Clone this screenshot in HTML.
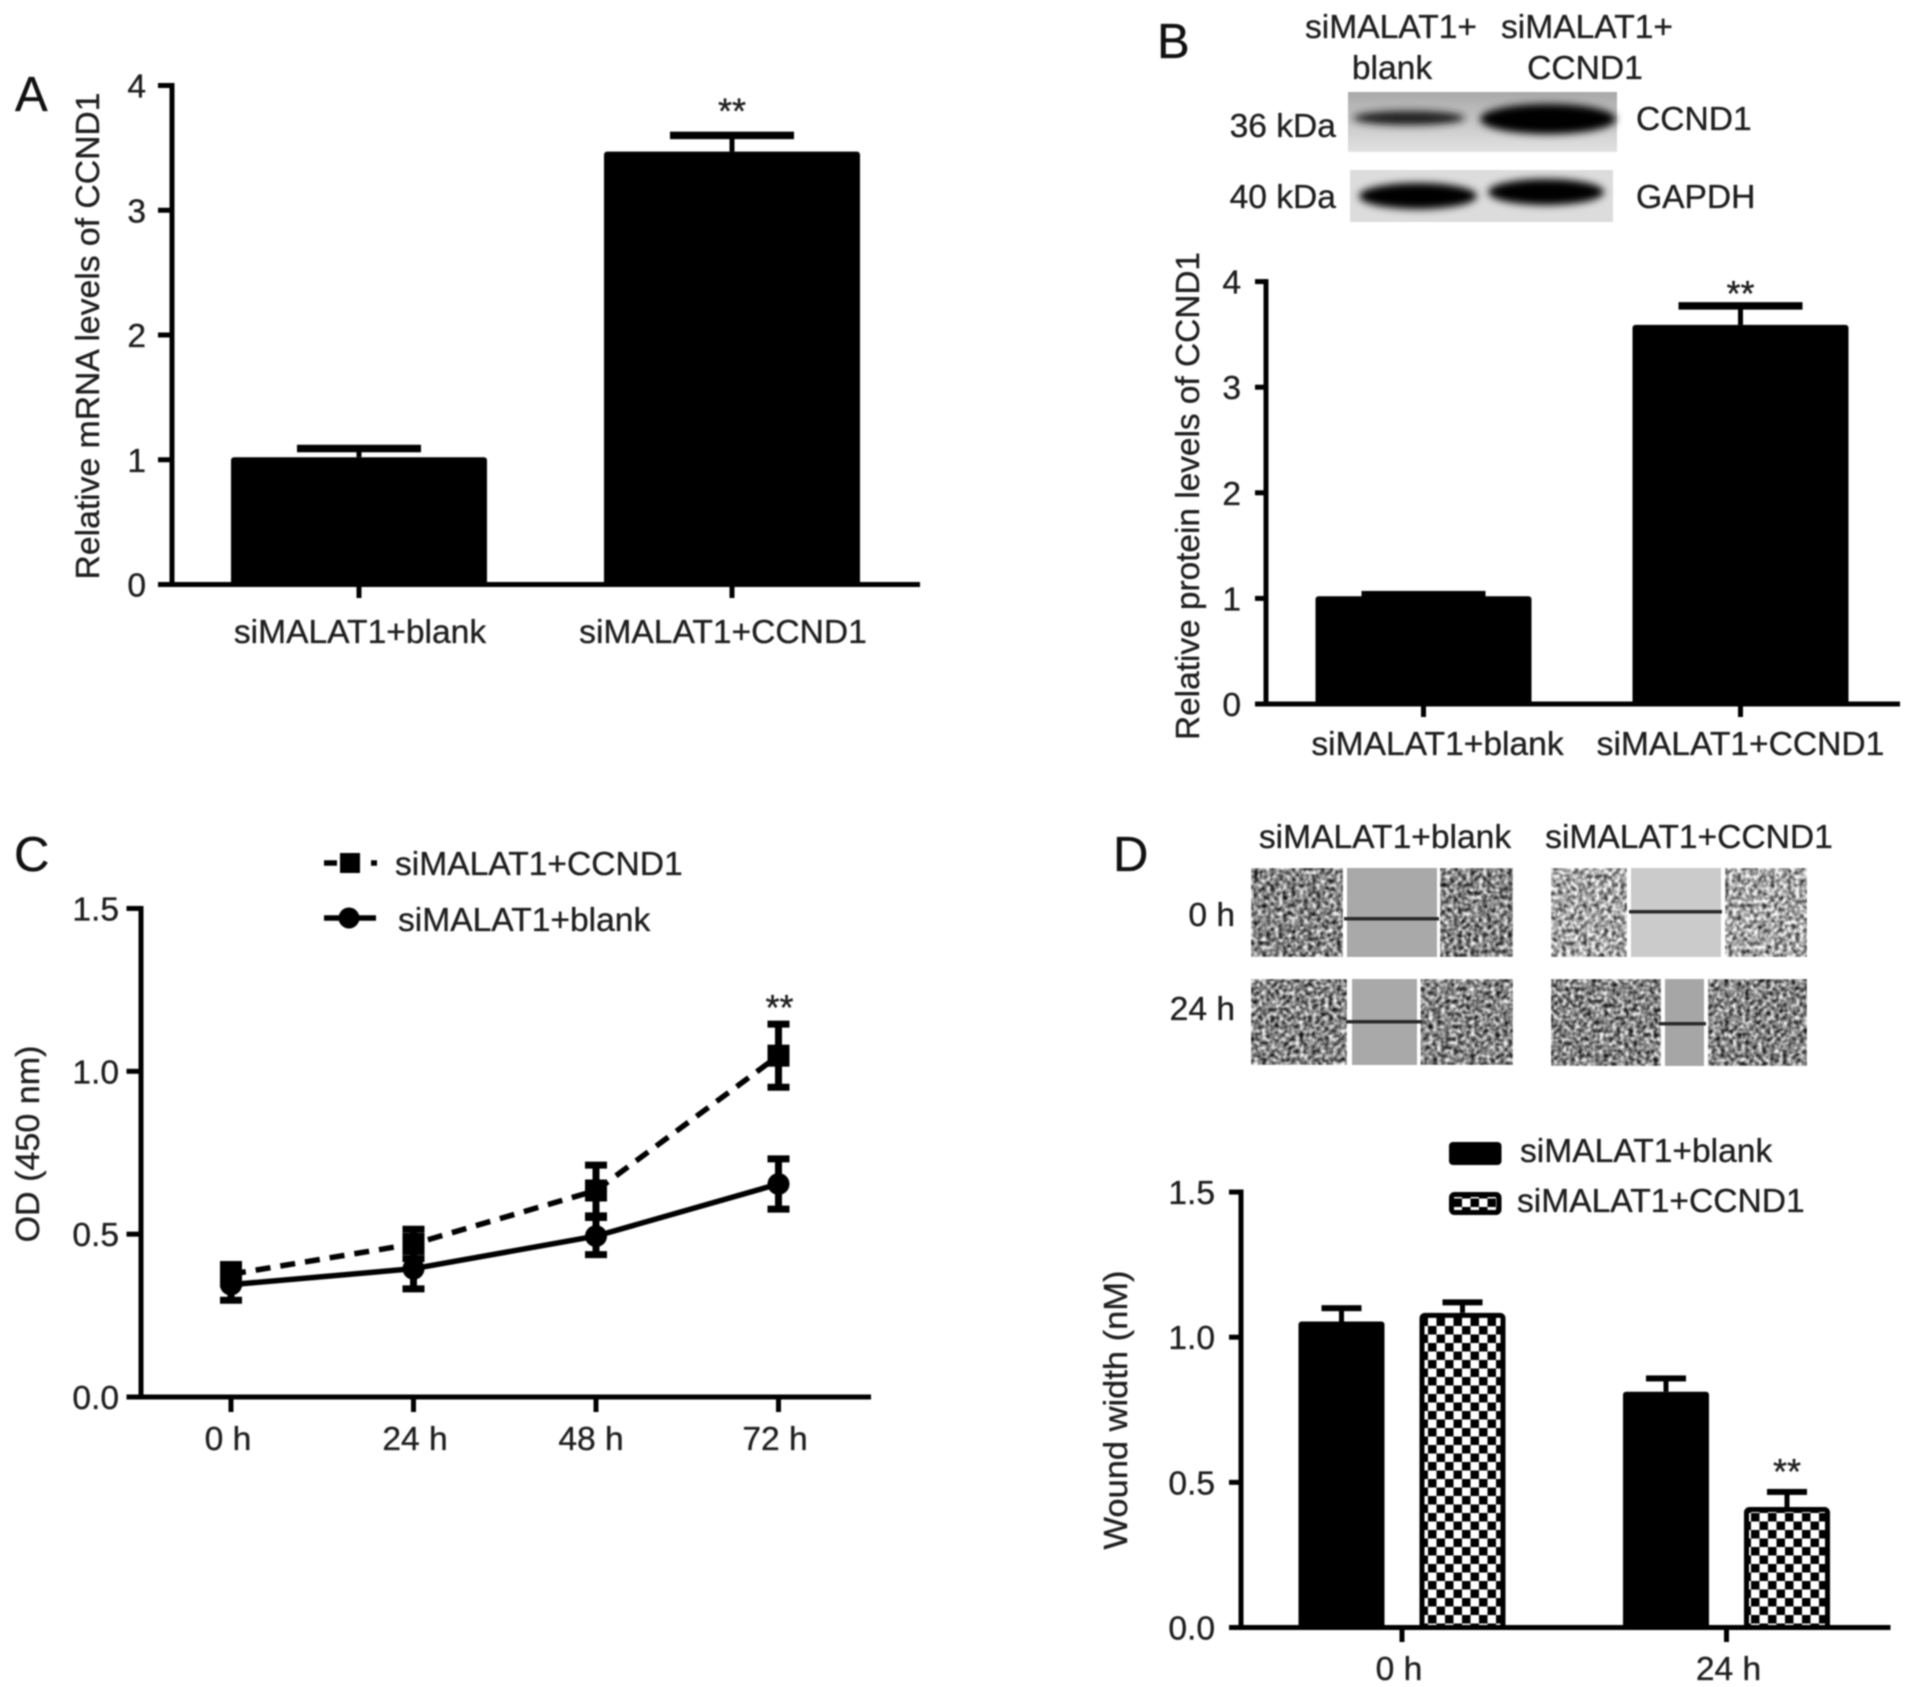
<!DOCTYPE html>
<html lang="en">
<head>
<meta charset="utf-8">
<title>CCND1 panels A-D</title>
<style>
html,body{margin:0;padding:0;background:#fff;width:1913px;height:1687px;overflow:hidden}
svg{display:block;filter:blur(.7px)}
text{font-family:"Liberation Sans",sans-serif;font-size:33.6px;fill:#1f1f1f;stroke:#1f1f1f;stroke-width:.35px}
.letter{font-size:49px;fill:#111;stroke:#111}
</style>
</head>
<body>
<svg id="figure" xmlns="http://www.w3.org/2000/svg" width="1913" height="1687" viewBox="0 0 1913 1687">
<defs>
<pattern id="checker" patternUnits="userSpaceOnUse" width="17" height="17">
<rect width="17" height="17" fill="#fff"/>
<rect x="0" y="0" width="8.5" height="8.5" fill="#000"/>
<rect x="8.5" y="8.5" width="8.5" height="8.5" fill="#000"/>
</pattern>
<filter id="tissue" x="0" y="0" width="100%" height="100%" color-interpolation-filters="sRGB">
<feTurbulence type="fractalNoise" baseFrequency="0.24" numOctaves="2" seed="4"/>
<feColorMatrix type="matrix" values="1.7 0 0 0 -0.33  1.7 0 0 0 -0.33  1.7 0 0 0 -0.33  0 0 0 0 1"/>
<feGaussianBlur stdDeviation="0.6"/>
</filter>
<filter id="tissue-light" x="0" y="0" width="100%" height="100%" color-interpolation-filters="sRGB">
<feTurbulence type="fractalNoise" baseFrequency="0.24" numOctaves="2" seed="9"/>
<feColorMatrix type="matrix" values="1.7 0 0 0 -0.2  1.7 0 0 0 -0.2  1.7 0 0 0 -0.2  0 0 0 0 1"/>
<feGaussianBlur stdDeviation="0.6"/>
</filter>
<filter id="band-blur" x="-30%" y="-80%" width="160%" height="260%"><feGaussianBlur stdDeviation="4"/></filter>
<linearGradient id="blot-bg" x1="0" y1="0" x2="0" y2="1">
<stop offset="0" stop-color="#a8a8a8"/><stop offset=".45" stop-color="#c4c4c4"/><stop offset="1" stop-color="#e2e2e2"/>
</linearGradient>
</defs>

<text class="letter" x="15" y="111">A</text>
<text class="letter" x="1157" y="58">B</text>
<text class="letter" x="14" y="871">C</text>
<text class="letter" x="1113" y="871">D</text>

<g>
<text x="1391" y="38" text-anchor="middle">siMALAT1+</text>
<text x="1392" y="79" text-anchor="middle">blank</text>
<text x="1587" y="38" text-anchor="middle">siMALAT1+</text>
<text x="1585" y="79" text-anchor="middle">CCND1</text>
<text x="1336" y="137" text-anchor="end">36 kDa</text>
<text x="1336" y="208" text-anchor="end">40 kDa</text>
<text x="1636" y="130">CCND1</text>
<text x="1636" y="208">GAPDH</text>
<g>
<rect x="1348" y="92" width="269" height="60" fill="url(#blot-bg)"/>
<ellipse cx="1409" cy="118" rx="56" ry="7" fill="#1c1c1c" filter="url(#band-blur)"/>
<ellipse cx="1548" cy="119" rx="68" ry="15" fill="#000" filter="url(#band-blur)"/>
</g>
<g>
<rect x="1350" y="170" width="263" height="52" fill="#dcdcdc"/>
<ellipse cx="1418" cy="196" rx="59" ry="13" fill="#000" filter="url(#band-blur)"/>
<ellipse cx="1546" cy="192" rx="58" ry="13" fill="#000" filter="url(#band-blur)"/>
</g>
</g>

<g>
<text x="1385" y="848" text-anchor="middle">siMALAT1+blank</text>
<text x="1689" y="848" text-anchor="middle">siMALAT1+CCND1</text>
<text x="1235" y="926" text-anchor="end">0 h</text>
<text x="1235" y="1020" text-anchor="end">24 h</text>

<g>
<rect x="1251" y="868" width="262" height="89" fill="#fff"/>
<rect x="1251" y="868" width="92" height="89" filter="url(#tissue)"/>
<rect x="1347" y="868" width="90" height="89" fill="#a9a9a9"/>
<rect x="1440" y="868" width="73" height="89" filter="url(#tissue)"/>
<rect x="1344" y="917" width="95" height="3.5" fill="#2a2a2a"/>
</g>
<g>
<rect x="1551" y="868" width="256" height="89" fill="#fff"/>
<rect x="1551" y="868" width="76" height="89" filter="url(#tissue-light)"/>
<rect x="1631" y="868" width="90" height="89" fill="#cbcbcb"/>
<rect x="1725" y="868" width="82" height="89" filter="url(#tissue-light)"/>
<rect x="1629" y="910" width="93" height="3.5" fill="#2a2a2a"/>
</g>
<g>
<rect x="1251" y="979" width="262" height="86" fill="#fff"/>
<rect x="1251" y="979" width="96" height="86" filter="url(#tissue)"/>
<rect x="1352" y="979" width="65" height="86" fill="#a9a9a9"/>
<rect x="1420.500" y="979" width="92.500" height="86" filter="url(#tissue)"/>
<rect x="1346" y="1020" width="76" height="3.500" fill="#2a2a2a"/>
</g>
<g>
<rect x="1551" y="979" width="256" height="87" fill="#fff"/>
<rect x="1551" y="979" width="110" height="87" filter="url(#tissue)"/>
<rect x="1665" y="979" width="39" height="87" fill="#a6a6a6"/>
<rect x="1708" y="979" width="99" height="87" filter="url(#tissue)"/>
<rect x="1659" y="1022" width="47" height="3.500" fill="#2a2a2a"/>
</g>
</g>
</svg>

<script>
// Panel A data
const aCategories = ['siMALAT1+blank', 'siMALAT1+CCND1'];
const aMeans = [1.02, 3.47];
const aErrorTops = [1.09, 3.60];
const aTicks = [0, 1, 2, 3, 4];
const aTickLabels = ['0', '1', '2', '3', '4'];
const aStars = ['', '**'];

// Panel B data
const bCategories = ['siMALAT1+blank', 'siMALAT1+CCND1'];
const bMeans = [1.02, 3.59];
const bErrorTops = [1.035, 3.77];
const bTicks = [0, 1, 2, 3, 4];
const bTickLabels = ['0', '1', '2', '3', '4'];
const bStars = ['', '**'];

// Panel C data
const cCategories = ['0 h', '24 h', '48 h', '72 h'];
const cCcnd1 = [0.377, 0.47, 0.634, 1.048];
const cCcnd1Err = [0.03, 0.045, 0.078, 0.097];
const cBlank = [0.345, 0.394, 0.494, 0.654];
const cBlankErr = [0.048, 0.062, 0.057, 0.077];
const cTicks = [0, 0.5, 1, 1.5];
const cTickLabels = ['0.0', '0.5', '1.0', '1.5'];
const cStars = ['', '', '', '**'];

// Panel D data
const dCategories = ['0 h', '24 h'];
const dBlank = [1.054, 0.812];
const dBlankTops = [1.10, 0.858];
const dCcnd1 = [1.084, 0.415];
const dCcnd1Tops = [1.12, 0.467];
const dTicks = [0, 0.5, 1, 1.5];
const dTickLabels = ['0.0', '0.5', '1.0', '1.5'];
const dStars = ['', '**'];

const NS = 'http://www.w3.org/2000/svg';
const fig = document.getElementById('figure');
function el(tag, attrs, parent) {
  const n = document.createElementNS(NS, tag);
  for (const k in attrs) n.setAttribute(k, attrs[k]);
  (parent || fig).appendChild(n);
  return n;
}
function label(str, attrs, parent) {
  const t = el('text', attrs, parent);
  t.textContent = str;
  return t;
}
function linearY(y0, pxPerUnit) { return v => y0 - v * pxPerUnit; }
function pointX(x0, step) { return i => x0 + i * step; }

function drawAxes(group, o) {
  const yAxis = el('line', {x1: o.axisX, x2: o.axisX, y1: o.y(o.ticks[o.ticks.length - 1]) - 2.5, y2: o.y(0) + 2.5, stroke: '#000', 'stroke-width': 5}, group);
  
  
  const xAxis = el('line', {x1: o.tickLeft, x2: o.axisEnd, y1: o.y(0), y2: o.y(0), stroke: '#000', 'stroke-width': 5}, group);
  
  
  o.ticks.forEach((v, i) => {
    const t = el('line', {x1: o.tickLeft, x2: o.axisX, y1: o.y(v), y2: o.y(v), stroke: '#000', 'stroke-width': 5}, group);
    
    
    const l = label(o.tickLabels[i], {x: o.labelRight, y: o.y(v) + 12, 'text-anchor': 'end'}, group);
    
    
  });
  o.categories.forEach((c, i) => {
    const x = o.x(i);
    const t = el('line', {x1: x, x2: x, y1: o.y(0), y2: o.tickBottom, stroke: '#000', 'stroke-width': 5}, group);
    
    
    const l = label(c, {x: x + o.labelShift(i), y: o.catBaseline, 'text-anchor': 'middle'}, group);
    
    
  });
  const title = label(o.title, {x: o.titleX, y: o.titleY, 'text-anchor': 'middle', transform: 'rotate(-90 ' + o.titleX + ' ' + o.titleY + ')', textLength: o.titleLength, lengthAdjust: 'spacingAndGlyphs'}, group);
  
  
}

function drawStars(group, str, x, centerY) {
  if (!str) return;
  const s = label(str, {x: x, y: centerY + 21, 'text-anchor': 'middle', style: 'font-size:36px'}, group);
  
  
}

function drawErrorCap(group, x, y, valueY, halfWidth, capH) {
  const stem = el('rect', {x: x - 2.5, y: y, width: 5, height: Math.max(valueY - y, 0), fill: '#000'}, group);
  
  
  const cap = el('rect', {x: x - halfWidth, y: y - capH / 2, width: halfWidth * 2, height: capH, fill: '#000'}, group);
  
  
}

function drawSimpleBars(name, o, means, tops, stars, barW, starYs) {
  const g = el('g', {});
  
  
  means.forEach((v, i) => {
    const x = o.x(i);
    const b = el('rect', {x: x - barW / 2, y: o.y(v), width: barW, height: o.y(0) - o.y(v), rx: 3, fill: '#000'}, g);
    
    
    drawErrorCap(g, x, o.y(tops[i]), o.y(v), 62, 7.5);
    drawStars(g, stars[i], x, starYs(tops[i]));
  });
  drawAxes(g, o);
}

// Panel A
const aY = linearY(584.5, 124.75);
drawSimpleBars('panel-a-chart', {
  axisX: 172, tickLeft: 158, axisEnd: 920, tickBottom: 598, labelRight: 146, y: aY, x: pointX(359, 373),
  ticks: aTicks, tickLabels: aTickLabels, categories: aCategories, labelShift: i => i === 0 ? 1 : -9,
  catBaseline: 643, title: 'Relative mRNA levels of CCND1', titleX: 99, titleY: 336, titleLength: 487
}, aMeans, aErrorTops, aStars, 256, v => aY(v) - 33);

// Panel B
const bY = linearY(704, 105.6);
drawSimpleBars('panel-b-chart', {
  axisX: 1266, tickLeft: 1255, axisEnd: 1900, tickBottom: 717, labelRight: 1241, y: bY, x: pointX(1423.5, 317),
  ticks: bTicks, tickLabels: bTickLabels, categories: bCategories, labelShift: i => i === 0 ? 14 : 0,
  catBaseline: 755, title: 'Relative protein levels of CCND1', titleX: 1199, titleY: 496, titleLength: 488
}, bMeans, bErrorTops, bStars, 216, v => bY(v) - 21);

// Panel C
const cY = linearY(1397, 325.7);
const cX = pointX(231, 182.5);
const cG = el('g', {});


drawAxes(cG, {
  axisX: 141, tickLeft: 126.5, axisEnd: 871, tickBottom: 1412, labelRight: 119, y: cY, x: cX,
  ticks: cTicks, tickLabels: cTickLabels, categories: cCategories, labelShift: i => [-3, 1.5, -5, -3.5][i],
  catBaseline: 1450, title: 'OD (450 nm)', titleX: 39, titleY: 1144, titleLength: 197
});
function drawSeries(values, errs, dashed, marker, name) {
  const g = el('g', {}, cG);
  
  
  const pts = values.map((v, i) => cX(i) + ',' + cY(v)).join(' ');
  const attrs = {points: pts, fill: 'none', stroke: '#000', 'stroke-width': 5.5};
  if (dashed) attrs['stroke-dasharray'] = '15 10';
  const line = el('polyline', attrs, g);
  
  
  values.forEach((v, i) => {
    const x = cX(i);
    const eb = el('path', {d: 'M' + (x - 11) + ' ' + cY(v + errs[i]) + 'H' + (x + 11) + 'M' + x + ' ' + cY(v + errs[i]) + 'V' + cY(v - errs[i]) + 'M' + (x - 11) + ' ' + cY(v - errs[i]) + 'H' + (x + 11), fill: 'none', stroke: '#000', 'stroke-width': 7}, g);
    
    
    let m;
    if (marker === 'square') {
      m = el('rect', {x: x - 11, y: cY(v) - 11, width: 22, height: 22, fill: '#000'}, g);
    } else {
      m = el('circle', {cx: x, cy: cY(v), r: 11, fill: '#000'}, g);
    }
    
    
  });
}
drawSeries(cCcnd1, cCcnd1Err, true, 'square', 'series-ccnd1');
drawSeries(cBlank, cBlankErr, false, 'circle', 'series-blank');
cStars.forEach((s, i) => {
  drawStars(cG, s, cX(i) + 1, 999);
});

const cLegend = el('g', {}, cG);


const cl1 = el('path', {d: 'M324 863H337M371 863H377', stroke: '#000', 'stroke-width': 5.5, fill: 'none'}, cLegend);


const cm1 = el('rect', {x: 340, y: 853, width: 20, height: 20, fill: '#000'}, cLegend);


const ct1 = label('siMALAT1+CCND1', {x: 395, y: 875}, cLegend);


const cl2 = el('line', {x1: 324, x2: 376, y1: 918, y2: 918, stroke: '#000', 'stroke-width': 5.5}, cLegend);


const cm2 = el('circle', {cx: 349, cy: 918, r: 10.5, fill: '#000'}, cLegend);


const ct2 = label('siMALAT1+blank', {x: 398, y: 931}, cLegend);



// Panel D
const dY = linearY(1627.5, 290.3);
const dX = pointX(1402, 324.5);
const dG = el('g', {});


const barW = 86;
function drawGroupBars(values, tops, offset, checked, name) {
  values.forEach((v, i) => {
    const x = dX(i) + offset;
    const attrs = checked
      ? {x: x - barW / 2 + 2.5, y: dY(v) + 2.5, width: barW - 5, height: dY(0) - dY(v) - 2.5, rx: 3, fill: 'url(#checker)', stroke: '#000', 'stroke-width': 5}
      : {x: x - barW / 2, y: dY(v), width: barW, height: dY(0) - dY(v), rx: 3, fill: '#000'};
    const b = el('rect', attrs, dG);
    
    
    drawErrorCap(dG, x, dY(tops[i]), dY(v), 20, 6);
  });
}
drawGroupBars(dBlank, dBlankTops, -60.5, false, 'bar-blank');
drawGroupBars(dCcnd1, dCcnd1Tops, 60.5, true, 'bar-ccnd1');
dStars.forEach((s, i) => {
  drawStars(dG, s, dX(i) + 60.5, dY(dCcnd1Tops[i]) - 29);
});
drawAxes(dG, {
  axisX: 1241, tickLeft: 1229, axisEnd: 1890.5, tickBottom: 1642, labelRight: 1215, y: dY, x: dX,
  ticks: dTicks, tickLabels: dTickLabels, categories: dCategories, labelShift: i => i === 0 ? -3 : 2,
  catBaseline: 1680, title: 'Wound width (nM)', titleX: 1127, titleY: 1410, titleLength: 279
});
const dLegend = el('g', {}, dG);


const ds1 = el('rect', {x: 1449, y: 1142, width: 52.5, height: 23, rx: 4, fill: '#000'}, dLegend);


const dt1 = label('siMALAT1+blank', {x: 1520, y: 1162}, dLegend);


const ds2 = el('rect', {x: 1451.5, y: 1194.5, width: 47.5, height: 18, rx: 3, fill: 'url(#checker)', stroke: '#000', 'stroke-width': 5}, dLegend);


const dt2 = label('siMALAT1+CCND1', {x: 1517, y: 1212}, dLegend);


</script>
</body>
</html>
